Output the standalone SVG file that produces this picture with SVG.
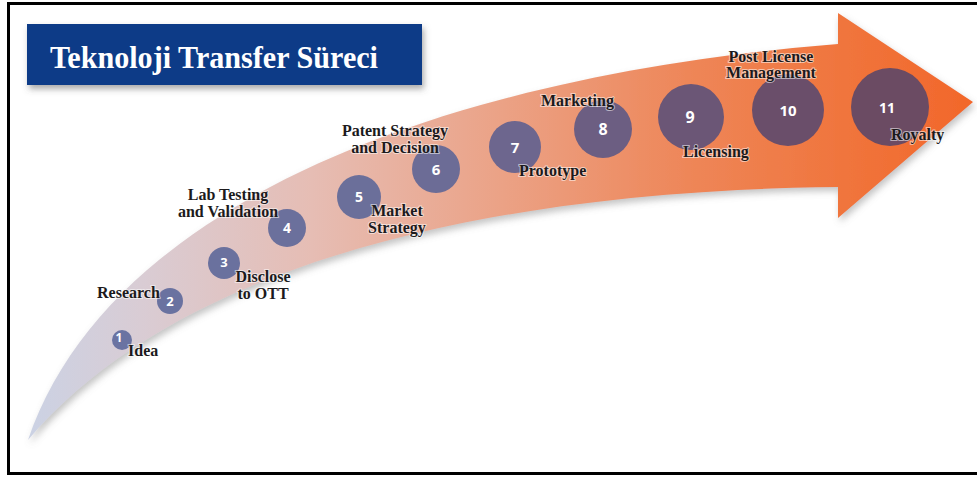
<svg xmlns="http://www.w3.org/2000/svg" width="977" height="478" viewBox="0 0 977 478">
<defs>
<linearGradient id="bandGrad" gradientUnits="userSpaceOnUse" x1="28" y1="0" x2="973" y2="0">
<stop offset="0" stop-color="#cbd2e4"/>
<stop offset="0.12" stop-color="#d9ccd4"/>
<stop offset="0.3" stop-color="#e6bdb4"/>
<stop offset="0.5" stop-color="#eba286"/>
<stop offset="0.7" stop-color="#ee8658"/>
<stop offset="0.88" stop-color="#f0733a"/>
<stop offset="1" stop-color="#f2672a"/>
</linearGradient>
<filter id="shadow" x="-10%" y="-10%" width="120%" height="130%">
<feDropShadow dx="2" dy="4" stdDeviation="3.5" flood-color="#7a7a7a" flood-opacity="0.45"/>
</filter>
<filter id="boxShadow" x="-10%" y="-20%" width="120%" height="150%">
<feDropShadow dx="2" dy="4" stdDeviation="3" flood-color="#555" flood-opacity="0.5"/>
</filter>
</defs>
<style>
.lbl{font-family:"Liberation Serif","Times New Roman",serif;font-weight:bold;font-size:16px;fill:#1c1a1c;stroke:#ffffff;stroke-width:2px;stroke-opacity:0.55;paint-order:stroke;}
.num{font-family:"Open Sans","DejaVu Sans",sans-serif;font-weight:bold;fill:#ffffff;text-anchor:middle;}
.mid{text-anchor:middle;}
.title{font-family:"Liberation Serif","Times New Roman",serif;font-weight:bold;font-size:31px;fill:#ffffff;}
</style>
<rect x="0" y="0" width="977" height="478" fill="#ffffff"/>
<rect x="8.5" y="3.5" width="980" height="470" fill="none" stroke="#000000" stroke-width="3"/>

<g id="connectors">
<path id="arrow" d="M28,440 C110,200 450,75 838,44 L838,13 L973,102 L838,218 L838,187 C500,190 180,260 28,440 Z" fill="url(#bandGrad)" filter="url(#shadow)"/>
</g>

<g id="title">
<rect x="27" y="24" width="395" height="61" fill="#0b3a87" filter="url(#boxShadow)"/>
<text class="title" x="50" y="68" textLength="328" lengthAdjust="spacingAndGlyphs">Teknoloji Transfer Süreci</text>
</g>

<g id="n1">
<circle cx="122" cy="340" r="10" fill="#6a73a2"/>
<text class="num" x="119" y="342" font-size="12">1</text>
<text class="lbl" x="128" y="356">Idea</text>
</g>
<g id="n2">
<circle cx="170" cy="301" r="13" fill="#6a72a0"/>
<text class="num" x="170" y="306" font-size="13">2</text>
<text class="lbl" x="97" y="298">Research</text>
</g>
<g id="n3">
<circle cx="224" cy="263" r="16" fill="#6a719e"/>
<text class="num" x="224" y="267" font-size="13">3</text>
<text class="lbl mid" x="263" y="282">Disclose</text>
<text class="lbl mid" x="263" y="299">to OTT</text>
</g>
<g id="n4">
<circle cx="287" cy="228" r="19" fill="#6b709c"/>
<text class="num" x="287" y="233" font-size="14">4</text>
<text class="lbl mid" x="228" y="200">Lab Testing</text>
<text class="lbl mid" x="228" y="217">and Validation</text>
</g>
<g id="n5">
<circle cx="359" cy="197" r="22" fill="#6b6f9a"/>
<text class="num" x="359" y="202" font-size="14">5</text>
<text class="lbl mid" x="397" y="216">Market</text>
<text class="lbl mid" x="397" y="233">Strategy</text>
</g>
<g id="n6">
<circle cx="436" cy="169" r="24" fill="#6c6c96"/>
<text class="num" x="436" y="174.5" font-size="15">6</text>
<text class="lbl mid" x="395" y="136">Patent Strategy</text>
<text class="lbl mid" x="395" y="153">and Decision</text>
</g>
<g id="n7">
<circle cx="515" cy="147" r="26" fill="#6d668e"/>
<text class="num" x="515" y="152.5" font-size="15">7</text>
<text class="lbl" x="519" y="176">Prototype</text>
</g>
<g id="n8">
<circle cx="603" cy="129" r="29" fill="#6c5e82"/>
<text class="num" x="603" y="135" font-size="16">8</text>
<text class="lbl" x="541" y="106">Marketing</text>
</g>
<g id="n9">
<circle cx="691" cy="117" r="33" fill="#6b5676"/>
<text class="num" x="690" y="123" font-size="16">9</text>
<text class="lbl" x="683" y="157">Licensing</text>
</g>
<g id="n10">
<circle cx="788" cy="110" r="36" fill="#6a4e6a"/>
<text class="num" x="788" y="115.5" font-size="15">10</text>
<text class="lbl mid" x="771" y="62">Post License</text>
<text class="lbl mid" x="771" y="78">Management</text>
</g>
<g id="n11">
<circle cx="890" cy="107" r="39" fill="#6b4b63"/>
<text class="num" x="887" y="113" font-size="14">11</text>
<text class="lbl" x="891" y="140">Royalty</text>
</g>
</svg>
